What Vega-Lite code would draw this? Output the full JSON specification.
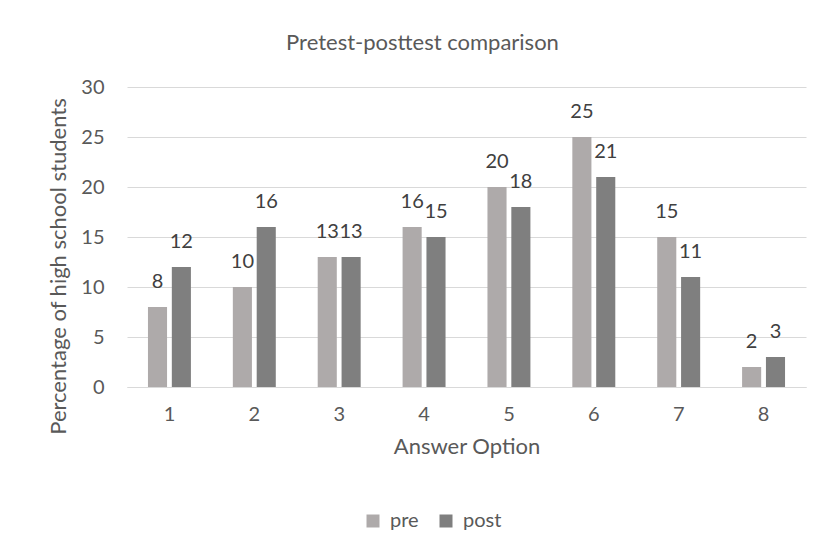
{
  "$schema": "https://vega.github.io/schema/vega-lite/v6.json",
  "width": 679,
  "height": 300,
  "autosize": {"type": "none"},
  "padding": {"left": 127, "top": 87, "right": 17, "bottom": 172},
  "background": "white",
  "title": {"text": "Pretest-posttest comparison", "fontSize": 22, "font": "Lato", "fontWeight": "normal", "color": "#595959", "offset": 22, "anchor": "middle", "frame": "group", "dx": -44},
  "data": {"values": [
    {"option": "1", "test": "pre", "value": 8},
    {"option": "1", "test": "post", "value": 12},
    {"option": "2", "test": "pre", "value": 10},
    {"option": "2", "test": "post", "value": 16},
    {"option": "3", "test": "pre", "value": 13},
    {"option": "3", "test": "post", "value": 13},
    {"option": "4", "test": "pre", "value": 16},
    {"option": "4", "test": "post", "value": 15},
    {"option": "5", "test": "pre", "value": 20},
    {"option": "5", "test": "post", "value": 18},
    {"option": "6", "test": "pre", "value": 25},
    {"option": "6", "test": "post", "value": 21},
    {"option": "7", "test": "pre", "value": 15},
    {"option": "7", "test": "post", "value": 11},
    {"option": "8", "test": "pre", "value": 2},
    {"option": "8", "test": "post", "value": 3}
  ]},
  "encoding": {
    "x": {"field": "option", "type": "nominal", "scale": {"paddingInner": 0.494, "paddingOuter": 0.247},
      "axis": {"labelAngle": 0, "domain": true, "domainColor": "#d9d9d9", "ticks": false, "labelPadding": 17, "labelFontSize": 20, "labelColor": "#595959", "title": "Answer Option", "titleFontSize": 22, "titleFontWeight": "normal", "titleColor": "#595959", "titlePadding": 12}},
    "xOffset": {"field": "test", "type": "nominal", "sort": ["pre", "post"], "scale": {"paddingInner": 0.2, "paddingOuter": 0}},
    "y": {"field": "value", "type": "quantitative", "scale": {"domain": [0, 30]},
      "axis": {"values": [0, 5, 10, 15, 20, 25, 30], "grid": true, "gridColor": "#d9d9d9", "domain": false, "ticks": false, "labelPadding": 23, "labelFontSize": 20, "labelColor": "#595959", "title": "Percentage of high school students", "titleFontSize": 22, "titleFontWeight": "normal", "titleColor": "#595959", "titleX": -69, "titleY": 179, "titleBaseline": "middle", "titleAlign": "center", "titleAngle": -90}}
  },
  "layer": [
    {"mark": {"type": "bar"},
     "encoding": {"color": {"field": "test", "type": "nominal", "sort": ["pre", "post"],
       "scale": {"domain": ["pre", "post"], "range": ["#aeaaaa", "#7f7f7f"]},
       "legend": {"title": null, "orient": "none", "legendX": 236, "legendY": 424, "direction": "horizontal", "symbolType": "square", "symbolSize": 169, "symbolStrokeWidth": 0, "labelFontSize": 20, "labelColor": "#595959", "columnPadding": 17, "labelOffset": 7}}}},
    {"mark": {"type": "text", "baseline": "middle", "dy": -25, "fontSize": 20, "color": "#404040"},
     "encoding": {"text": {"field": "value", "type": "quantitative"}}}
  ],
  "config": {"font": "Lato", "view": {"stroke": null}}
}
